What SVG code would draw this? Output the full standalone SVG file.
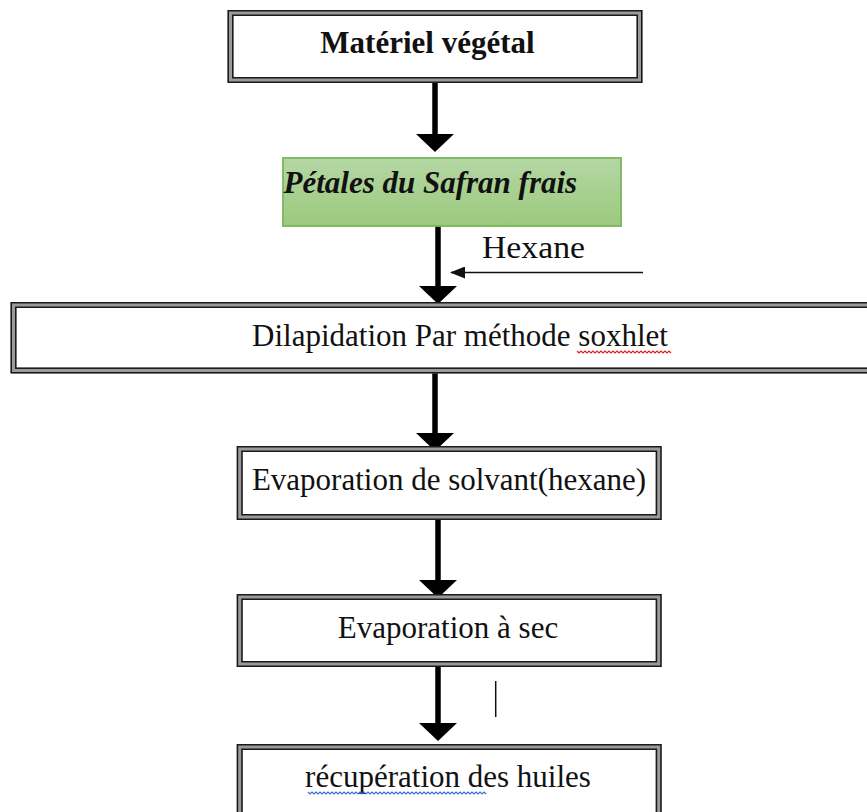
<svg xmlns="http://www.w3.org/2000/svg" width="867" height="812" viewBox="0 0 867 812">
<style>
  text { font-family: "Liberation Serif", "Times New Roman", serif; font-size: 31px; fill: #111; }
  .c { text-anchor: middle; }
  .b { font-weight: bold; }
  .bi { font-weight: bold; font-style: italic; }
  .band { fill: #fff; stroke: #9a9a9a; stroke-width: 6; }
  .ln { fill: none; stroke: #1a1a1a; stroke-width: 1.5; }
  .flow { stroke: #000; stroke-width: 5.5; fill: none; }
  .thin { stroke: #111; stroke-width: 1.5; fill: none; }
</style>
<defs>
  <linearGradient id="gr" x1="0" y1="0" x2="0" y2="1">
    <stop offset="0" stop-color="#b5d7a4"/>
    <stop offset="1" stop-color="#9bca7e"/>
  </linearGradient>
  <marker id="big" markerUnits="userSpaceOnUse" viewBox="0 0 18 38" markerWidth="18" markerHeight="38" refX="8" refY="19" orient="auto">
    <path d="M0,0 L18,19 L0,38 Z" fill="#000"/>
  </marker>
  <marker id="small" markerUnits="userSpaceOnUse" viewBox="0 0 15 12" markerWidth="15" markerHeight="12" refX="14" refY="6" orient="auto">
    <path d="M0,0 L15,6 L0,12 Z" fill="#111"/>
  </marker>
</defs>

<g id="connectors">
  <line class="flow" x1="435" y1="83" x2="435" y2="142" marker-end="url(#big)"/>
  <line class="flow" x1="438" y1="226" x2="438" y2="294" marker-end="url(#big)"/>
  <line class="flow" x1="435" y1="373" x2="435" y2="441" marker-end="url(#big)"/>
  <line class="flow" x1="438" y1="520" x2="438" y2="588" marker-end="url(#big)"/>
  <line class="flow" x1="438" y1="667" x2="438" y2="731" marker-end="url(#big)"/>
  <line class="thin" x1="643" y1="272.5" x2="451" y2="272.5" marker-end="url(#small)"/>
  <line class="thin" x1="495.7" y1="681" x2="495.7" y2="717"/>
</g>

<g id="n1">
  <rect class="band" x="230.5" y="13" width="409" height="67"/>
  <rect class="ln" x="228.25" y="10.75" width="413.5" height="71.5"/>
  <rect class="ln" x="232.75" y="15.25" width="404.5" height="62.5"/>
  <text class="c b" x="427.5" y="53">Matériel végétal</text>
</g>

<g id="n2">
  <rect x="283" y="158" width="338" height="68" fill="url(#gr)" stroke="#7ab55b" stroke-width="1.8"/>
  <text class="bi" x="283.5" y="193">Pétales du Safran frais</text>
</g>

<g id="hexane">
  <text x="482" y="258" textLength="103" lengthAdjust="spacingAndGlyphs">Hexane</text>
</g>

<g id="n3">
  <rect class="band" x="13.5" y="305" width="870" height="65.5"/>
  <rect class="ln" x="11.25" y="302.75" width="875" height="70"/>
  <rect class="ln" x="15.75" y="307.25" width="866" height="61"/>
  <text class="c" x="460" y="346">Dilapidation Par méthode soxhlet</text>
  <path d="M577,351 l2,2 l2,-2 l2,2 l2,-2 l2,2 l2,-2 l2,2 l2,-2 l2,2 l2,-2 l2,2 l2,-2 l2,2 l2,-2 l2,2 l2,-2 l2,2 l2,-2 l2,2 l2,-2 l2,2 l2,-2 l2,2 l2,-2 l2,2 l2,-2 l2,2 l2,-2 l2,2 l2,-2 l2,2 l2,-2 l2,2 l2,-2 l2,2 l2,-2 l2,2 l2,-2 l2,2 l2,-2 l2,2 l2,-2 l2,2 l2,-2 l2,2 l2,-2 l2,2" fill="none" stroke="#e02020" stroke-width="1.2"/>
</g>

<g id="n4">
  <rect class="band" x="239.7" y="449" width="419" height="68"/>
  <rect class="ln" x="237.45" y="446.75" width="423.5" height="72.5"/>
  <rect class="ln" x="241.95" y="451.25" width="414.5" height="63.5"/>
  <text class="c" x="449" y="490">Evaporation de solvant(hexane)</text>
</g>

<g id="n5">
  <rect class="band" x="239.7" y="597" width="419" height="67"/>
  <rect class="ln" x="237.45" y="594.75" width="423.5" height="71.5"/>
  <rect class="ln" x="241.95" y="599.25" width="414.5" height="62.5"/>
  <text class="c" x="448" y="638">Evaporation à sec</text>
</g>

<g id="n6">
  <rect class="band" x="239.7" y="747" width="419" height="70"/>
  <rect class="ln" x="237.45" y="744.75" width="423.5" height="74"/>
  <rect class="ln" x="241.95" y="749.25" width="414.5" height="65"/>
  <text class="c" x="448" y="787">récupération des huiles</text>
  <path d="M308,792 l2,2 l2,-2 l2,2 l2,-2 l2,2 l2,-2 l2,2 l2,-2 l2,2 l2,-2 l2,2 l2,-2 l2,2 l2,-2 l2,2 l2,-2 l2,2 l2,-2 l2,2 l2,-2 l2,2 l2,-2 l2,2 l2,-2 l2,2 l2,-2 l2,2 l2,-2 l2,2 l2,-2 l2,2 l2,-2 l2,2 l2,-2 l2,2 l2,-2 l2,2 l2,-2 l2,2 l2,-2 l2,2 l2,-2 l2,2 l2,-2 l2,2 l2,-2 l2,2 l2,-2 l2,2 l2,-2 l2,2 l2,-2 l2,2 l2,-2 l2,2 l2,-2 l2,2 l2,-2 l2,2 l2,-2 l2,2 l2,-2 l2,2 l2,-2 l2,2 l2,-2 l2,2 l2,-2 l2,2 l2,-2 l2,2 l2,-2 l2,2 l2,-2 l2,2 l2,-2 l2,2 l2,-2 l2,2 l2,-2 l2,2 l2,-2 l2,2 l2,-2 l2,2 l2,-2 l2,2 l2,-2 l2,2" fill="none" stroke="#3a6fd8" stroke-width="1.2"/>
</g>
</svg>
